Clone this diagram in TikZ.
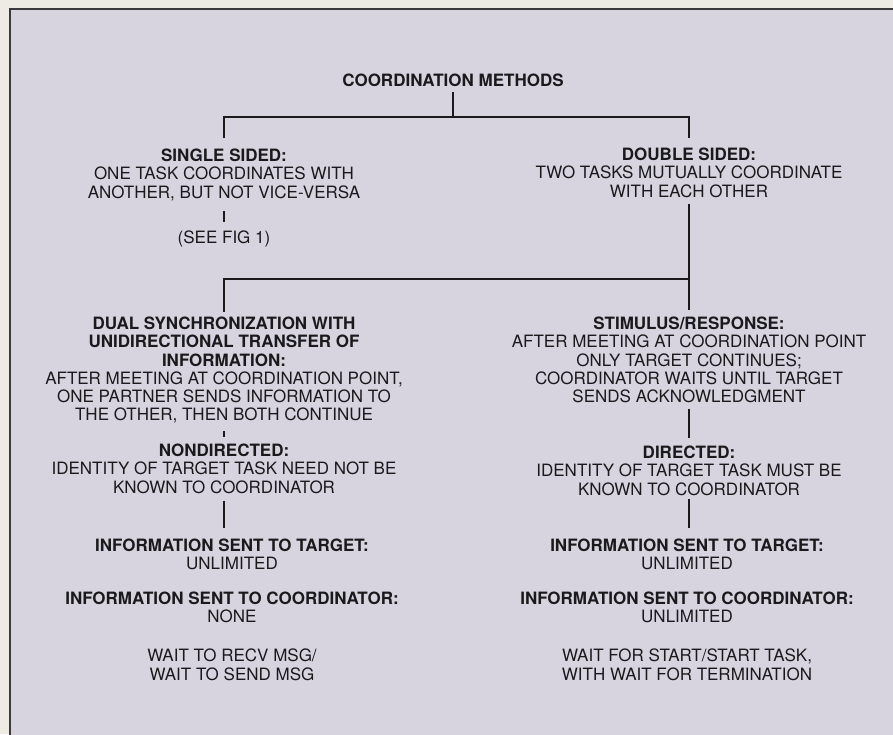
\documentclass[tikz,border=0pt]{standalone}
\usepackage{fontspec}
\setmainfont{TeX Gyre Heros}
\definecolor{paper}{HTML}{EEEBE5}
\definecolor{panel}{HTML}{D7D4E0}
\definecolor{ink}{HTML}{1A1A1C}
\definecolor{frame}{HTML}{3A3A3C}
\begin{document}
\begin{tikzpicture}[x=1pt,y=-1pt,
  txt/.style={inner sep=0pt, align=center, anchor=north, text=ink,
    font=\fontsize{17}{18.2}\selectfont},
  line/.style={draw=ink, line width=2pt}]
\useasboundingbox (0,0) rectangle (893,734);
\fill[paper] (0,0) rectangle (893,734);
\fill[panel] (10,9) rectangle (900,740);
\draw[frame, line width=2pt] (10,740) -- (10,9) -- (900,9);

\node[txt] (title) at (453,73.9) {\textbf{COORDINATION METHODS}};
\node[txt] (single) at (224,148.9) {\textbf{SINGLE SIDED:}\\ONE TASK COORDINATES WITH\\ANOTHER, BUT NOT VICE-VERSA};
\node[txt] (double) at (689,147.9) {\textbf{DOUBLE SIDED:}\\TWO TASKS MUTUALLY COORDINATE\\WITH EACH OTHER};
\node[txt] (seefig) at (224,230.9) {(SEE FIG 1)};
\node[txt] (dual) at (224,316.9) {\textbf{DUAL SYNCHRONIZATION WITH}\\\textbf{UNIDIRECTIONAL TRANSFER OF}\\\textbf{INFORMATION:}\\AFTER MEETING AT COORDINATION POINT,\\ONE PARTNER SENDS INFORMATION TO\\THE OTHER, THEN BOTH CONTINUE};
\node[txt] (stim) at (689,316.9) {\textbf{STIMULUS/RESPONSE:}\\AFTER MEETING AT COORDINATION POINT\\ONLY TARGET CONTINUES;\\COORDINATOR WAITS UNTIL TARGET\\SENDS ACKNOWLEDGMENT};
\node[txt] (nondir) at (224,443.9) {\textbf{NONDIRECTED:}\\IDENTITY OF TARGET TASK NEED NOT BE\\KNOWN TO COORDINATOR};
\node[txt] (dir) at (689,445.9) {\textbf{DIRECTED:}\\IDENTITY OF TARGET TASK MUST BE\\KNOWN TO COORDINATOR};
\node[txt] (itL) at (232,538.9) {\textbf{INFORMATION SENT TO TARGET:}\\UNLIMITED};
\node[txt] (itR) at (687,538.9) {\textbf{INFORMATION SENT TO TARGET:}\\UNLIMITED};
\node[txt] (icL) at (232,591.9) {\textbf{INFORMATION SENT TO COORDINATOR:}\\NONE};
\node[txt] (icR) at (687,591.9) {\textbf{INFORMATION SENT TO COORDINATOR:}\\UNLIMITED};
\node[txt] (wL) at (232,648.9) {WAIT TO RECV MSG/\\WAIT TO SEND MSG};
\node[txt] (wR) at (687,648.9) {WAIT FOR START/START TASK,\\WITH WAIT FOR TERMINATION};

\coordinate (h1) at (453,117);
\coordinate (h2) at (689,279);
\draw[line] ([yshift=-5pt]title.south) -- (title.south |- h1);
\draw[line] ([yshift=10.5pt]single.north) |- (h1) -| ([yshift=9.5pt]double.north);
\draw[line] ([yshift=-10pt]single.south) -- ([yshift=8.5pt]seefig.north);
\draw[line] ([yshift=-6pt]double.south) -- ([yshift=6.5pt]stim.north);
\draw[line] (h2) -| ([yshift=4.5pt]dual.north);
\draw[line] ([yshift=-8pt]dual.south) -- ([yshift=6.5pt]nondir.north);
\draw[line] ([yshift=-5.5pt]stim.south) -- ([yshift=7.5pt]dir.north);
\draw[line, shorten >=10.5pt] ([yshift=-7pt]nondir.south) -- (nondir.south |- itL.north);
\draw[line, shorten >=10.5pt] ([yshift=-3.5pt]dir.south) -- (dir.south |- itR.north);
\end{tikzpicture}
\end{document}
